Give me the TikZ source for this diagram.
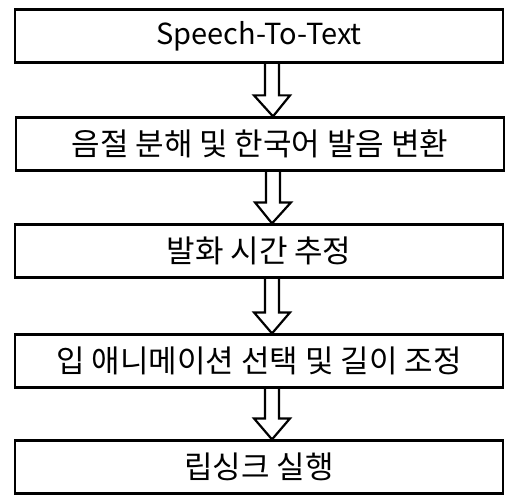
\documentclass[tikz,border=0pt]{standalone}
\usepackage{fontspec}
\setmainfont{Noto Sans CJK KR}
\usetikzlibrary{calc}

% hollow block arrow from one box down to the next
\newcommand{\steparrow}[2]{%
  \draw [line width=2.2pt, line join=miter]
    let \p1=([xshift=13pt]#1.south), \p2=([xshift=13pt]#2.north) in
    (\x1-7pt,\y1) -- (\x1-7pt,\y2+21pt) -- (\x1-18pt,\y2+21pt) -- (\x2,\y2)
    -- (\x1+18pt,\y2+21pt) -- (\x1+7pt,\y2+21pt) -- (\x1+7pt,\y1);
}

\begin{document}
\begin{tikzpicture}[x=1pt, y=1pt]
	\useasboundingbox (0,0) rectangle (509,-495);
	\tikzset{every node/.style={draw, line width=2.2pt, minimum width=488pt, minimum height=53pt,
		inner sep=0pt, font=\fontsize{31}{36}\selectfont}}

	\node (stt)   at (259, -36)  [font=\fontsize{29}{34}\selectfont] {Speech-To-Text};
	\node (syl)   at (260, -144) {음절 분해 및 한국어 발음 변환};
	\node (dur)   at (259, -251) {발화 시간 추정};
	\node (lip)   at (259, -361) {입 애니메이션 선택 및 길이 조정};
	\node (run)   at (259, -467) {립싱크 실행};

	\steparrow{stt}{syl}
	\steparrow{syl}{dur}
	\steparrow{dur}{lip}
	\steparrow{lip}{run}
\end{tikzpicture}
\end{document}
